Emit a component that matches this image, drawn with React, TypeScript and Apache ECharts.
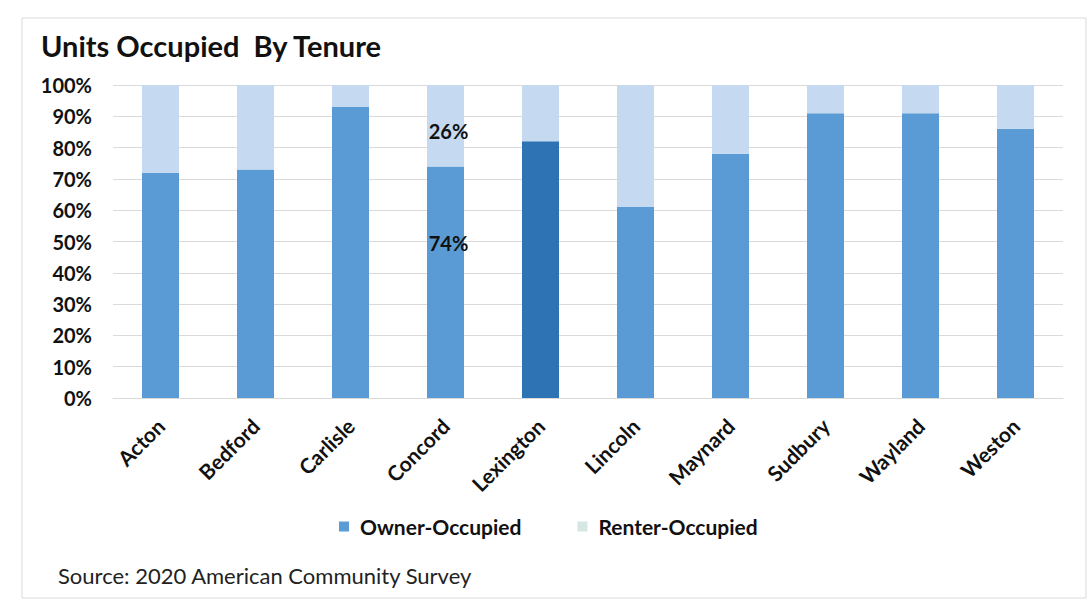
import React, { useEffect, useRef } from "react";
import * as echarts from "echarts";

const categories = ["Acton", "Bedford", "Carlisle", "Concord", "Lexington", "Lincoln", "Maynard", "Sudbury", "Wayland", "Weston"];
const ownerOccupied = [72, 73, 93, 74, 82, 61, 78, 91, 91, 86];
const renterOccupied = [28, 27, 7, 26, 18, 39, 22, 9, 9, 14];
const yTicks = [0, 10, 20, 30, 40, 50, 60, 70, 80, 90, 100];
const labeledCategory = "Concord";
const highlightCategory = "Lexington";

const FONT = "Lato, 'Open Sans', sans-serif";

export default function App() {
  const ref = useRef<HTMLDivElement>(null);
  useEffect(() => {
    document.body.style.margin = "0";
    const chart = echarts.init(ref.current!, null, { renderer: "svg" });
    const owner = ownerOccupied.map((v, i) => {
      const item: any = { value: v };
      if (categories[i] === highlightCategory) item.itemStyle = { color: "#2E74B5" };
      if (categories[i] === labeledCategory)
        item.label = { show: true, position: "inside", offset: [3, -39], formatter: "{c}%" };
      return item;
    });
    const renter = renterOccupied.map((v, i) => {
      const item: any = { value: v };
      if (categories[i] === labeledCategory)
        item.label = { show: true, position: "inside", offset: [3, 5], formatter: "{c}%" };
      return item;
    });
    const labelStyle = { fontFamily: FONT, fontSize: 20, fontWeight: "bold", color: "#111" };
    chart.setOption({
      animation: false,
      backgroundColor: "#ffffff",
      textStyle: { fontFamily: FONT },
      title: {
        text: "Units Occupied  By Tenure",
        left: 36,
        top: 26,
        textStyle: { fontFamily: FONT, fontSize: 29, fontWeight: "bold", color: "#111" },
      },
      legend: {
        bottom: 63,
        left: 334,
        itemWidth: 10,
        itemHeight: 10,
        itemGap: 56,
        icon: "rect",
        textStyle: { fontFamily: FONT, fontSize: 21, fontWeight: "bold", color: "#111", padding: [0, 0, 0, 6] },
        data: [
          { name: "Owner-Occupied", itemStyle: { color: "#5B9BD5" } },
          { name: "Renter-Occupied", itemStyle: { color: "#D6E6E2" } },
        ],
      },
      graphic: [
        {
          type: "rect",
          shape: { x: 22, y: 18, width: 1064, height: 580 },
          style: { fill: "none", stroke: "#D9D9D9", lineWidth: 1 },
          silent: true,
        },
        {
          type: "text",
          left: 58,
          top: 564,
          style: { text: "Source: 2020 American Community Survey", font: `22px ${FONT}`, fill: "#222" },
        },
      ],
      grid: { left: 113, right: 28, top: 85, bottom: 207, containLabel: false },
      xAxis: {
        type: "category",
        data: categories,
        axisLine: { show: true, lineStyle: { color: "#D9D9D9" } },
        axisTick: { show: false },
        axisLabel: {
          rotate: 45,
          margin: 24,
          fontFamily: FONT,
          fontSize: 21,
          fontWeight: "bold",
          color: "#111",
        },
      },
      yAxis: {
        type: "value",
        min: 0,
        max: 100,
        interval: 10,
        axisLine: { show: false },
        axisTick: { show: false },
        splitLine: { lineStyle: { color: "#DCDAD8", width: 1 } },
        axisLabel: {
          fontFamily: FONT,
          fontSize: 20,
          fontWeight: "bold",
          color: "#111",
          margin: 21,
          formatter: (v: number) => (yTicks.includes(v) ? `${v}%` : ""),
        },
      },
      series: [
        {
          name: "Owner-Occupied",
          type: "bar",
          stack: "total",
          barWidth: 37,
          itemStyle: { color: "#5B9BD5" },
          label: { show: false, ...labelStyle },
          data: owner,
        },
        {
          name: "Renter-Occupied",
          type: "bar",
          stack: "total",
          barWidth: 37,
          itemStyle: { color: "#C5DAF0" },
          label: { show: false, ...labelStyle },
          data: renter,
        },
      ],
    });
    return () => chart.dispose();
  }, []);
  return <div ref={ref} style={{ width: 1091, height: 605 }} />;
}
